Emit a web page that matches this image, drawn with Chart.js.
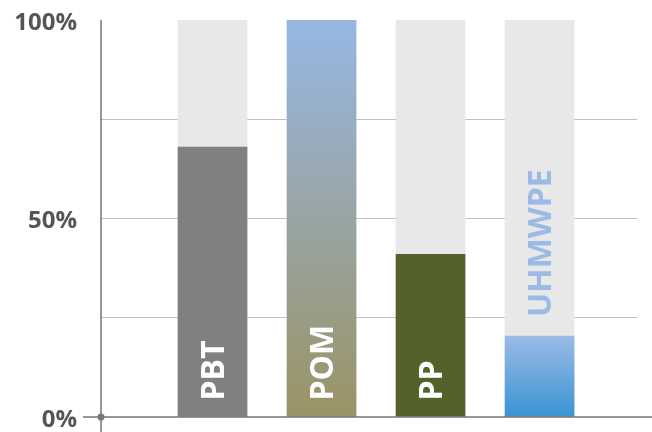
<!DOCTYPE html>
<html lang="es">
<head>
<meta charset="utf-8">
<title>Materiales</title>
<script src="https://cdn.jsdelivr.net/npm/chart.js@4/dist/chart.umd.min.js"></script>
<style>
    html, body { margin: 0; padding: 0; background: #fff; }
</style>
</head>
<body>
<canvas id="materialesChart" width="652" height="432"></canvas>
<script>
// Datos del gráfico
const materiales = ['PBT', 'POM', 'PP', 'UHMWPE'];
const porcentajes = [68, 100, 41, 20.4];
const fondoBarras = [100, 100, 100, 100];
const marcasEje = [0, 50, 100];

// Colores de cada barra: [arriba, abajo]
const coloresBarras = [
    ['#808080', '#808080'],
    ['#97b7e3', '#9a9366'],
    ['#53622a', '#53622a'],
    ['#9bbbe6', '#3a93d3']
];

// Relleno degradado según la altura de la barra
function colorBarra(context) {
    const chart = context.chart;
    const i = context.dataIndex;
    const colores = coloresBarras[i];
    if (!chart.chartArea || colores[0] === colores[1]) return colores[0];
    const y = chart.scales.y;
    const arriba = y.getPixelForValue(porcentajes[i]);
    const abajo = y.getPixelForValue(0);
    const grad = chart.ctx.createLinearGradient(0, arriba, 0, abajo);
    grad.addColorStop(0, colores[0]);
    grad.addColorStop(1, colores[1]);
    return grad;
}

// Ejes, punto del origen y nombres de los materiales
const ejesYEtiquetas = {
    id: 'ejesYEtiquetas',
    afterDatasetsDraw(chart) {
        const ctx = chart.ctx;
        const area = chart.chartArea;
        const origenY = chart.scales.y.getPixelForValue(0);
        ctx.save();
        ctx.strokeStyle = '#767676';
        ctx.lineWidth = 1.5;
        ctx.beginPath();
        ctx.moveTo(area.left, area.top);
        ctx.lineTo(area.left, chart.height);
        ctx.moveTo(area.left - 18, origenY);
        ctx.lineTo(chart.width, origenY);
        ctx.stroke();
        ctx.fillStyle = '#767676';
        ctx.beginPath();
        ctx.arc(area.left, origenY, 3.5, 0, Math.PI * 2);
        ctx.fill();

        const tam = 32;
        ctx.font = 'bold ' + tam + 'px "Open Sans"';
        ctx.textAlign = 'left';
        ctx.textBaseline = 'alphabetic';
        const meta = chart.getDatasetMeta(1);
        meta.data.forEach((barra, i) => {
            const texto = materiales[i];
            const ancho = ctx.measureText(texto).width;
            const alto = barra.base - barra.y;
            ctx.save();
            if (alto > ancho + 30) {
                ctx.fillStyle = '#ffffff';
                ctx.translate(barra.x, barra.base - 16);
            } else {
                ctx.fillStyle = coloresBarras[i][0];
                ctx.translate(barra.x, barra.y - 19);
            }
            ctx.rotate(-Math.PI / 2);
            ctx.fillText(texto, 0, tam * 0.36);
            ctx.restore();
        });
        ctx.restore();
    }
};

const ctx = document.getElementById('materialesChart').getContext('2d');
new Chart(ctx, {
    type: 'bar',
    data: {
        datasets: [{
            label: 'Fondo',
            data: fondoBarras.map((v, i) => ({ x: i + 1, y: v })),
            backgroundColor: '#e8e8e8',
            order: 2
        }, {
            label: 'Porcentaje',
            data: porcentajes.map((v, i) => ({ x: i + 1, y: v })),
            backgroundColor: colorBarra,
            order: 1
        }]
    },
    options: {
        responsive: false,
        animation: false,
        grouped: false,
        barThickness: 69,
        layout: { padding: { top: 20, right: 15, bottom: 15, left: 0 } },
        plugins: {
            legend: { display: false },
            tooltip: { enabled: false }
        },
        scales: {
            x: {
                type: 'linear',
                display: false,
                offset: false,
                min: -0.023,
                max: 4.894
            },
            y: {
                min: 0,
                max: 100,
                afterFit: scale => {
                    scale.width = 101;
                    scale.paddingTop = 0;
                    scale.paddingBottom = 0;
                },
                border: { display: false },
                grid: {
                    drawTicks: false,
                    color: c => [25, 50, 75].includes(c.tick.value) ? '#bfbfbf' : 'rgba(0,0,0,0)'
                },
                ticks: {
                    stepSize: 25,
                    padding: 24,
                    labelOffset: 3,
                    color: '#555555',
                    font: { family: 'Open Sans', size: 24, weight: 'bold' },
                    callback: v => marcasEje.includes(v) ? v + '%' : ''
                }
            }
        }
    },
    plugins: [ejesYEtiquetas]
});
</script>
</body>
</html>
